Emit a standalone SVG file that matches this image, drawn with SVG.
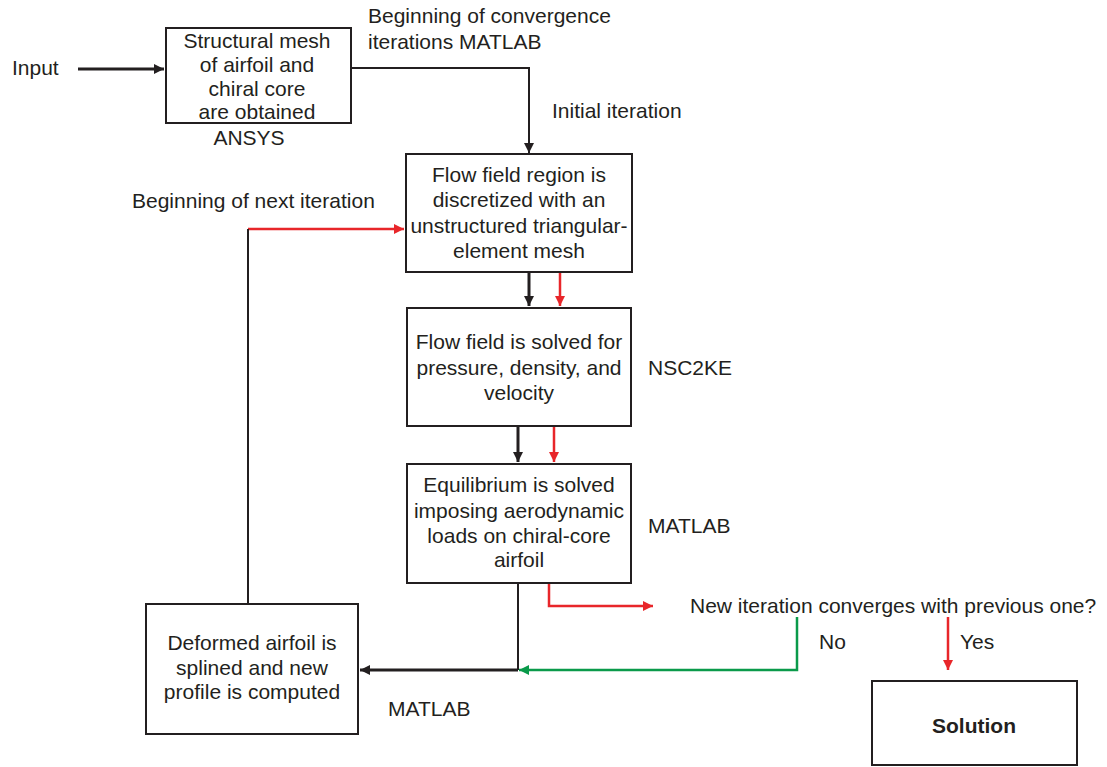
<svg xmlns="http://www.w3.org/2000/svg" width="1107" height="767" viewBox="0 0 1107 767">
<defs>
<style>
text{font-family:"Liberation Sans",Arial,sans-serif;font-size:21px;fill:#231f20}
.c{text-anchor:middle}
.b{font-weight:bold}
.box{fill:#fff;stroke:#231f20;stroke-width:2}
.k{fill:none;stroke:#231f20;stroke-width:2}
.kt{fill:none;stroke:#231f20;stroke-width:3}
.r{fill:none;stroke:#e8262a;stroke-width:2.5}
.g{fill:none;stroke:#0a9a4a;stroke-width:2.5}
</style>
<marker id="ak" viewBox="0 0 10 10" refX="10" refY="5" markerWidth="10" markerHeight="10" markerUnits="userSpaceOnUse" orient="auto"><path d="M0,0L10,5L0,10z" fill="#231f20"/></marker>
<marker id="ar" viewBox="0 0 10 10" refX="10" refY="5" markerWidth="10" markerHeight="10" markerUnits="userSpaceOnUse" orient="auto"><path d="M0,0L10,5L0,10z" fill="#e8262a"/></marker>
<marker id="ag" viewBox="0 0 10 10" refX="10" refY="5" markerWidth="10" markerHeight="10" markerUnits="userSpaceOnUse" orient="auto"><path d="M0,0L10,5L0,10z" fill="#0a9a4a"/></marker>
</defs>
<rect width="1107" height="767" fill="#fff"/>
<g id="connectors">
<path class="kt" d="M78,69H164" marker-end="url(#ak)"/>
<path class="k" d="M351,68H529V153" marker-end="url(#ak)"/>
<path class="r" d="M248,229H404" marker-end="url(#ar)"/>
<path class="k" d="M248,229V604"/>
<path class="kt" d="M529,272V306" marker-end="url(#ak)"/>
<path class="r" d="M560,272V306" marker-end="url(#ar)"/>
<path class="kt" d="M518,427V462" marker-end="url(#ak)"/>
<path class="r" d="M554,427V462" marker-end="url(#ar)"/>
<path class="k" d="M518,583V670"/>
<path class="kt" d="M518,670H360" marker-end="url(#ak)"/>
<path class="r" d="M549,583V606H653" marker-end="url(#ar)"/>
<path class="g" d="M797,617V670H519" marker-end="url(#ag)"/>
<path class="r" d="M948,617V670" marker-end="url(#ar)"/>
</g>
<g id="labels">
<text x="12" y="75">Input</text>
<text x="249" y="145" class="c">ANSYS</text>
<text x="368" y="23">Beginning of convergence</text>
<text x="368" y="49">iterations MATLAB</text>
<text x="552" y="118">Initial iteration</text>
<text x="132" y="208">Beginning of next iteration</text>
<text x="648" y="375">NSC2KE</text>
<text x="648" y="533">MATLAB</text>
<text x="388" y="716">MATLAB</text>
<text x="690" y="613">New iteration converges with previous one?</text>
<text x="819" y="649">No</text>
<text x="960" y="649">Yes</text>
</g>
<g id="n1">
<rect class="box" x="166" y="28" width="185" height="95"/>
<text x="257" y="48" class="c">Structural mesh</text>
<text x="257" y="72" class="c">of airfoil and</text>
<text x="257" y="96" class="c">chiral core</text>
<text x="257" y="119" class="c">are obtained</text>
</g>
<g id="n2">
<rect class="box" x="406" y="154" width="226" height="118"/>
<text x="519" y="182" class="c">Flow field region is</text>
<text x="519" y="207" class="c">discretized with an</text>
<text x="519" y="233" class="c">unstructured triangular-</text>
<text x="519" y="258" class="c">element mesh</text>
</g>
<g id="n3">
<rect class="box" x="407" y="308" width="224" height="118"/>
<text x="519" y="349" class="c">Flow field is solved for</text>
<text x="519" y="375" class="c">pressure, density, and</text>
<text x="519" y="400" class="c">velocity</text>
</g>
<g id="n4">
<rect class="box" x="407" y="464" width="224" height="119"/>
<text x="519" y="492" class="c">Equilibrium is solved</text>
<text x="519" y="518" class="c">imposing aerodynamic</text>
<text x="519" y="543" class="c">loads on chiral-core</text>
<text x="519" y="567" class="c">airfoil</text>
</g>
<g id="n5">
<rect class="box" x="146" y="604" width="212" height="130"/>
<text x="252" y="650" class="c">Deformed airfoil is</text>
<text x="252" y="675" class="c">splined and new</text>
<text x="252" y="699" class="c">profile is computed</text>
</g>
<g id="n6">
<rect class="box" x="872" y="681" width="205" height="84"/>
<text x="974" y="733" class="c b">Solution</text>
</g>
</svg>
